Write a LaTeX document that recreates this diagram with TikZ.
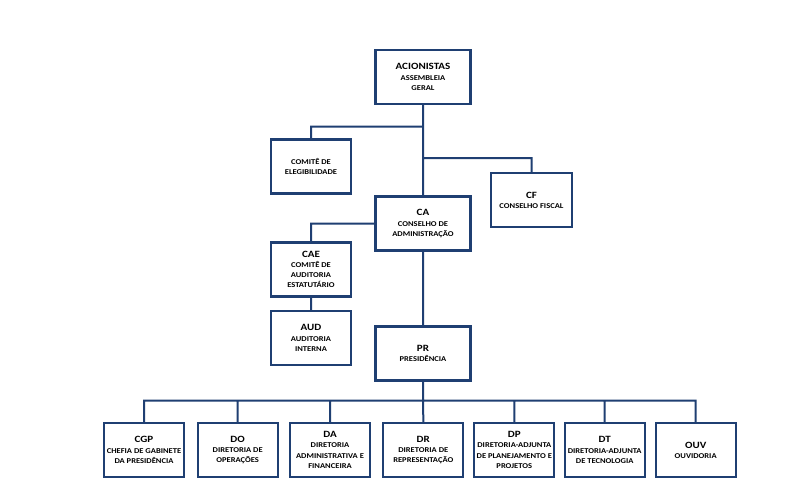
\documentclass[tikz,border=0pt]{standalone}
\usepackage{fontspec}
\setmainfont{Carlito}[FakeStretch=1.15]
\definecolor{navy}{HTML}{1F3F72}
\tikzset{
  unit/.style={draw=navy, line width=2.2pt, fill=white, align=center, inner sep=1pt,
    minimum width=80pt, minimum height=54pt,
    font=\fontsize{7.4}{10.2}\selectfont\bfseries},
  wide/.style={unit, minimum width=95pt},
  link/.style={draw=navy, line width=2pt}
}
\newcommand{\ttl}[1]{{\fontsize{9.6}{12}\selectfont #1}\\}
\begin{document}
\begin{tikzpicture}[x=1pt,y=-1pt]
\useasboundingbox (0,0) rectangle (809,500);
% upper part
\node [wide] (ac) at (423,77) {\ttl{ACIONISTAS}ASSEMBLEIA\\GERAL};
\node [unit] (ce) at (311,166.5) {COMITÊ DE\\ELEGIBILIDADE};
\node [unit, minimum width=81pt] (cf) at (531.5,200) {\ttl{CF}CONSELHO FISCAL};
\node [wide] (ca) at (423,223.5) {\ttl{CA}CONSELHO DE\\ADMINISTRAÇÃO};
\node [unit] (cae) at (311,269.5) {\ttl{CAE}COMITÊ DE\\AUDITORIA\\ESTATUTÁRIO};
\node [unit] (aud) at (311,338) {\ttl{AUD}AUDITORIA\\INTERNA};
\node [wide] (pr) at (423,353.5) {\ttl{PR}PRESIDÊNCIA};
% directorates
\node [unit] (cgp) at (144,450) {\ttl{CGP}CHEFIA DE GABINETE\\DA PRESIDÊNCIA};
\node [unit] (do) at (237.7,450) {\ttl{DO}DIRETORIA DE\\OPERAÇÕES};
\node [unit] (da) at (330,450) {\ttl{DA}DIRETORIA\\ADMINISTRATIVA E\\FINANCEIRA};
\node [unit] (dr) at (423.3,450) {\ttl{DR}DIRETORIA DE\\REPRESENTAÇÃO};
\node [unit] (dp) at (514.3,450) {\ttl{DP}DIRETORIA-ADJUNTA\\DE PLANEJAMENTO E\\PROJETOS};
\node [unit] (dt) at (604.7,450) {\ttl{DT}DIRETORIA-ADJUNTA\\DE TECNOLOGIA};
\node [unit] (ouv) at (695.7,450) {\ttl{OUV}OUVIDORIA};
\draw [link]
(ac.south) -- (ca.north)
(ac.south) -- ++(0,21.5) -| (ce.north)
(ac.south) -- ++(0,53) -| (cf.north)
(ca.west) -| (cae.north)
(cae.south) -- (aud.north)
(ca.south) -- (pr.north)
(pr.south) -- ++(0,19) -| (cgp.north)
(pr.south) -- ++(0,19) -| (do.north)
(pr.south) -- ++(0,19) -| (da.north)
(pr.south) -- (dr.north)
(pr.south) -- ++(0,19) -| (dp.north)
(pr.south) -- ++(0,19) -| (dt.north)
(pr.south) -- ++(0,19) -| (ouv.north)
;
\end{tikzpicture}
\end{document}
